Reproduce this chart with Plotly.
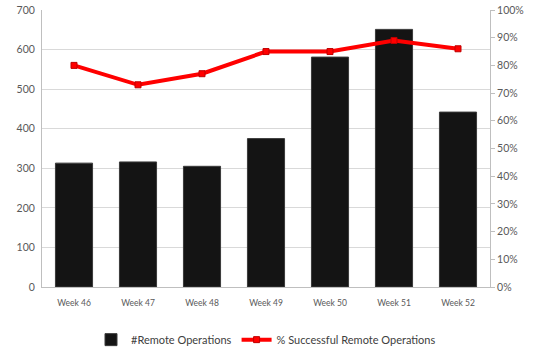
import plotly.graph_objects as go

weeks = ["Week 46", "Week 47", "Week 48", "Week 49", "Week 50", "Week 51", "Week 52"]
remote_ops = [313, 316, 305, 375, 581, 651, 442]
success_pct = [0.80, 0.73, 0.77, 0.85, 0.85, 0.89, 0.86]

font_family = "Lato, 'Liberation Sans', sans-serif"
gray = "#595959"

fig = go.Figure()
fig.add_trace(go.Bar(
    x=weeks, y=remote_ops, name="#Remote Operations",
    marker=dict(color="#141414", line=dict(color="#3a3a3a", width=1)),
    yaxis="y",
))
fig.add_trace(go.Scatter(
    x=weeks, y=success_pct, name="% Successful Remote Operations",
    mode="lines+markers",
    line=dict(color="#ff0000", width=4),
    marker=dict(symbol="square", size=6, color="#ff0000", line=dict(color="#c00000", width=1)),
    yaxis="y2",
))

fig.update_layout(
    width=533, height=349,
    margin=dict(l=42, r=43, t=10, b=62, autoexpand=False),
    paper_bgcolor="white", plot_bgcolor="white",
    bargap=0.42,
    font=dict(family=font_family, size=10, color=gray),
    showlegend=True,
    legend=dict(orientation="h", x=0.5, xanchor="center", y=-0.19, yanchor="middle",
                font=dict(size=11, color="#404040"), itemwidth=30),
    xaxis=dict(showgrid=False, showline=True, linecolor="#bfbfbf", linewidth=1,
               tickfont=dict(size=8.5, color=gray), ticks="", ticklabelstandoff=8),
    yaxis=dict(range=[0, 700], dtick=100, showgrid=True, gridcolor="#d9d9d9",
               showline=True, linecolor="#bfbfbf", zeroline=False,
               tickfont=dict(size=10.5, color=gray), ticks="", ticklabelstandoff=4),
    yaxis2=dict(range=[0, 1], dtick=0.1, tickformat=".0%", overlaying="y", side="right",
                showgrid=False, showline=True, linecolor="#bfbfbf", zeroline=False,
                ticks="outside", ticklen=4, tickcolor="#bfbfbf",
                tickfont=dict(size=10.5, color=gray)),
)

fig.write_html("out.html")
